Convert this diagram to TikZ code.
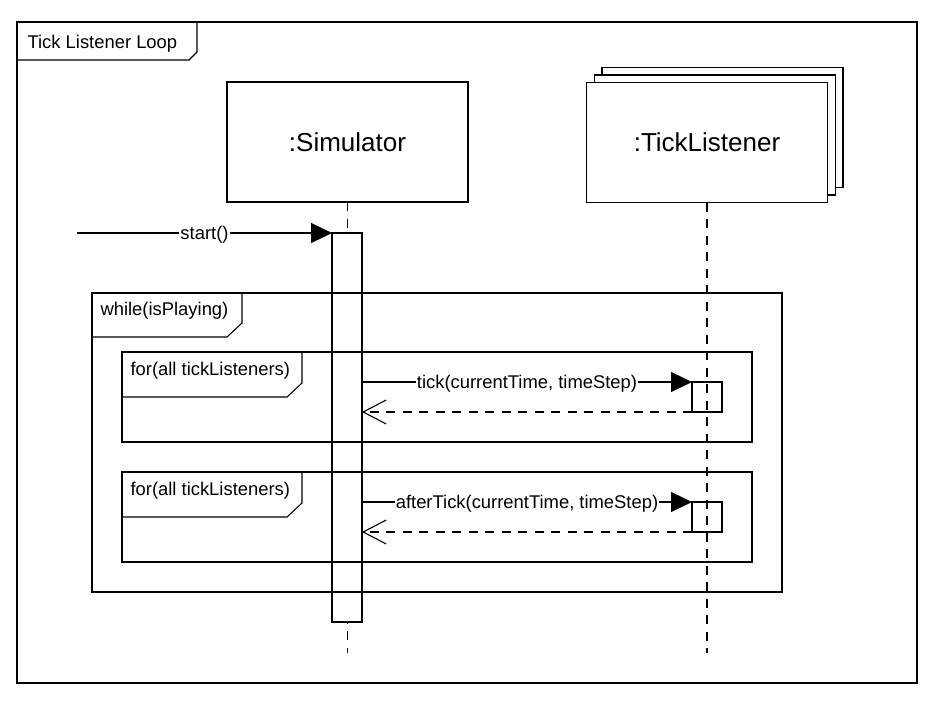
\documentclass[tikz,border=0pt]{standalone}
\usepackage{fontspec}
\setmainfont{Liberation Sans}
\usepackage{tikz}
\usetikzlibrary{positioning,arrows.meta,shapes,shadows,calc}
\newcommand{\msgfont}{\fontsize{18.4}{22}\selectfont}
\newcommand{\objfont}{\fontsize{26}{31}\selectfont}

\begin{document}
\begin{tikzpicture}[x=1pt, y=-1pt, line width=1.1pt,
    objbox/.style={draw, fill=white, outer sep=0pt, minimum width=241pt, minimum height=120pt, font=\objfont},
    actbar/.style={draw, outer sep=0pt, inner sep=0pt, minimum width=30pt},
    lifeline/.style={dash pattern=on 9pt off 7.5pt},
    syncmsg/.style={-{Triangle[length=21pt,width=20pt]}},
    retmsg/.style={dash pattern=on 9pt off 7.5pt, -{Straight Barb[length=23pt,width=24pt]}},
    msglabel/.style={fill=white, inner sep=1pt, yshift=-2pt, font=\msgfont},
    fraglabel/.style={anchor=west, inner sep=0pt, font=\msgfont}]

    \useasboundingbox (0,0) rectangle (934,707);

    % Outer frame
    \draw (17,22) rectangle (917,683);
    \draw (17,60) -- (189,60) -- (197,52) -- (197,22);
    \node[fraglabel] (title) at (27,44) {Tick Listener Loop};

    % Lifeline heads
    \node[objbox, copy shadow={shadow xshift=15.5pt, shadow yshift=15pt, line width=1.1pt},
        copy shadow={shadow xshift=7.75pt, shadow yshift=7.5pt, line width=1.1pt}] (tl) at (707,142.5) {:TickListener};
    \node[objbox] (sim) at (347.5,142) {:Simulator};

    % Lifelines
    \coordinate (simend) at (347.5,653);
    \coordinate (tlend) at (707,653);
    \draw[lifeline] (sim) -- (simend);
    \draw[lifeline] (tl) -- (tlend);

    % Activations
    \node[actbar, fill=white, minimum height=389pt] (simact) at (347,427.5) {};
    \node[actbar, minimum height=30pt] (tick1) at (707,397) {};
    \node[actbar, minimum height=30pt] (tick2) at (707,517) {};

    % Combined fragments
    \draw (92,293) rectangle (782,592);
    \draw (92,337) -- (227,337) -- (242,323) -- (242,293);
    \node[fraglabel] (loop) at (100,311) {while(isPlaying)};

    \draw (122,352) rectangle (752,442);
    \draw (122,397) -- (287,397) -- (302,383) -- (302,352);
    \node[fraglabel] (fora) at (130,371) {for(all tickListeners)};

    \draw (122,472) rectangle (752,562);
    \draw (122,517) -- (287,517) -- (302,503) -- (302,472);
    \node[fraglabel] (forb) at (130,491) {for(all tickListeners)};

    % Messages
    \coordinate (caller) at (77,233);
    \draw[syncmsg] (caller) -- (simact.north west) node[midway, msglabel] {start()};

    \draw[syncmsg] (simact.east |- tick1.north) -- (tick1.north west)
        node[midway, msglabel] {tick(currentTime, timeStep)};
    \draw[retmsg] (tick1.south west) -- (simact.east |- tick1.south);

    \draw[syncmsg] (simact.east |- tick2.north) -- (tick2.north west)
        node[midway, msglabel] {afterTick(currentTime, timeStep)};
    \draw[retmsg] (tick2.south west) -- (simact.east |- tick2.south);
\end{tikzpicture}
\end{document}
